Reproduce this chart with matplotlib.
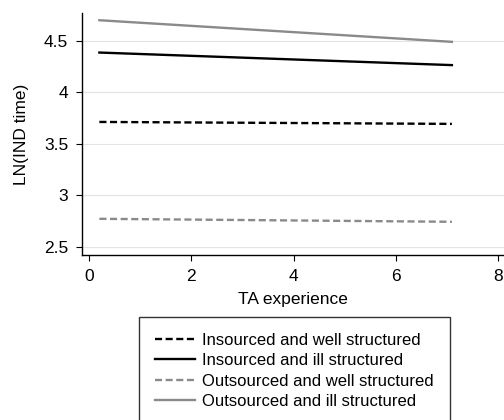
import matplotlib
matplotlib.use("Agg")
import matplotlib.pyplot as plt

plt.rcParams['font.family'] = ['Liberation Sans', 'DejaVu Sans']

# predicted LN(IND time) at the two ends of the TA experience range
ta_exp = [0.2, 7.1]
ins_well = [3.712, 3.693]
ins_ill = [4.386, 4.264]
out_well = [2.771, 2.742]
out_ill = [4.700, 4.490]

labels = ["Insourced and well structured", "Insourced and ill structured",
          "Outsourced and well structured", "Outsourced and ill structured"]
xticks = [0, 2, 4, 6, 8]
yticks = [2.5, 3, 3.5, 4, 4.5]

fig = plt.figure(figsize=(5.04, 4.2), dpi=100)
ax = fig.add_axes([0.1627, 0.393, 0.8373, 0.576])

gray = '#8a8a8a'
ax.plot(ta_exp, ins_well, color='black', lw=1.7, ls=(0, (3.0, 1.5)), label=labels[0])
ax.plot(ta_exp, ins_ill, color='black', lw=1.7, label=labels[1])
ax.plot(ta_exp, out_well, color=gray, lw=1.7, ls=(0, (3.0, 1.5)), label=labels[2])
ax.plot(ta_exp, out_ill, color=gray, lw=1.7, label=labels[3])

ax.set_xlim(-0.14, 8.12)
ax.set_ylim(2.42, 4.77)
ax.set_xticks(xticks)
ax.set_xticklabels([str(t) for t in xticks])
ax.set_yticks(yticks)
ax.set_yticklabels(['2.5', '3', '3.5', '4', '4.5'])
ax.grid(axis='y', color='#e4e4e4', lw=0.8)
ax.set_axisbelow(True)
for s in ['top', 'right']:
    ax.spines[s].set_visible(False)
for s in ['left', 'bottom']:
    ax.spines[s].set_linewidth(1.0)
ax.tick_params(direction='out', length=4, width=0.8, labelsize=12.5, pad=6)

ax.set_xlabel('TA experience', fontsize=12.5, labelpad=6)
ax.set_ylabel('LN(IND time)', fontsize=12.5, labelpad=11)

leg = fig.legend(loc='upper left', bbox_to_anchor=(139 / 504, 1 - 317 / 420),
                 fontsize=12, frameon=True, fancybox=False, edgecolor='black',
                 handlelength=2.4, handletextpad=0.45, labelspacing=0.32,
                 borderpad=0.95, borderaxespad=0)
leg.get_frame().set_linewidth(1.0)

fig.savefig('out.png', dpi=100)
